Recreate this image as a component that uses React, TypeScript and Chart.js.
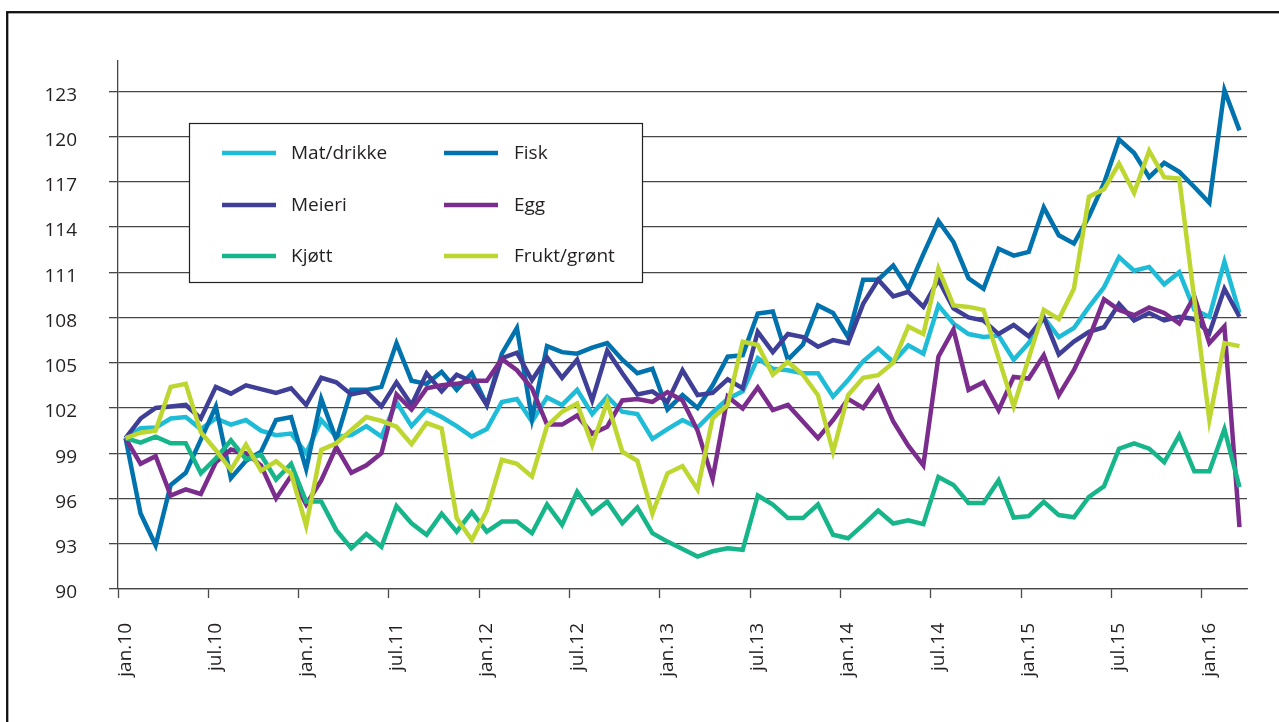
import { useEffect, useRef } from 'react';
import { Chart, registerables } from 'chart.js';

Chart.register(...registerables);

const MONTHS = ['jan', 'feb', 'mar', 'apr', 'mai', 'jun', 'jul', 'aug', 'sep', 'okt', 'nov', 'des'];
const YEARS = ['10', '11', '12', '13', '14', '15', '16'];
const categories: string[] = YEARS.flatMap((y) => MONTHS.map((m) => `${m}.${y}`)).slice(0, 75);

const yTicks = [90, 93, 96, 99, 102, 105, 108, 111, 114, 117, 120, 123];

const matDrikke = [
  100.0, 100.65, 100.7, 101.3, 101.4, 100.6, 101.3, 100.9, 101.2, 100.5,
  100.2, 100.3, 99.0, 101.2, 100.1, 100.2, 100.8, 100.1, 102.4, 100.8,
  101.9, 101.4, 100.8, 100.1, 100.6, 102.4, 102.6, 101.1, 102.7, 102.2,
  103.2, 101.6, 102.75, 101.75, 101.6, 99.95, 100.6, 101.2, 100.7, 101.7,
  102.6, 103.1, 105.3, 104.6, 104.5, 104.3, 104.3, 102.75, 103.85, 105.1,
  105.95, 105.05, 106.15, 105.6, 108.8, 107.6, 106.9, 106.7, 106.8, 105.2,
  106.3, 108.0, 106.7, 107.3, 108.7, 110.0, 112.0, 111.1, 111.35, 110.2,
  111.0, 108.5, 108.05, 111.7, 108.3,
];

const fisk = [
  100.0, 95.0, 92.9, 96.9, 97.7, 99.9, 102.1, 97.35, 98.5, 99.1,
  101.2, 101.4, 97.95, 102.6, 99.9, 103.2, 103.2, 103.4, 106.3, 103.8,
  103.6, 104.4, 103.2, 104.3, 102.2, 105.6, 107.3, 101.3, 106.1, 105.7,
  105.6, 106.0, 106.3, 105.2, 104.3, 104.6, 101.9, 102.86, 102.0, 103.5,
  105.4, 105.5, 108.26, 108.4, 105.2, 106.2, 108.8, 108.3, 106.7, 110.5,
  110.5, 111.45, 109.9, 112.2, 114.4, 113.0, 110.6, 109.9, 112.55, 112.1,
  112.35, 115.3, 113.45, 112.9, 114.7, 116.9, 119.8, 118.9, 117.3, 118.25,
  117.65, 116.65, 115.6, 123.07, 120.4,
];

const meieri = [
  100.0, 101.3, 102.0, 102.1, 102.2, 101.3, 103.4, 102.95, 103.5, 103.25,
  103.0, 103.3, 102.2, 104.0, 103.7, 102.9, 103.1, 102.1, 103.7, 102.2,
  104.3, 103.1, 104.2, 103.75, 102.2, 105.3, 105.66, 103.85, 105.35, 104.0,
  105.2, 102.5, 105.8, 104.3, 102.9, 103.1, 102.4, 104.5, 102.86, 103.0,
  103.9, 103.3, 107.05, 105.7, 106.9, 106.7, 106.06, 106.5, 106.3, 108.9,
  110.5, 109.4, 109.7, 108.7, 110.5, 108.6, 108.0, 107.8, 106.9, 107.5,
  106.75, 108.0, 105.55, 106.4, 107.05, 107.35, 108.9, 107.8, 108.3, 107.8,
  108.05, 107.9, 106.95, 109.9, 108.05,
];

const egg = [
  100.0, 98.3, 98.8, 96.2, 96.6, 96.3, 98.4, 99.25, 99.0, 98.2,
  96.0, 97.5, 95.6, 97.2, 99.4, 97.7, 98.2, 99.0, 102.9, 101.9,
  103.3, 103.5, 103.6, 103.8, 103.8, 105.25, 104.5, 103.3, 100.9, 100.9,
  101.5, 100.3, 100.76, 102.5, 102.6, 102.4, 103.05, 102.5, 100.5, 97.3,
  102.75, 101.97, 103.36, 101.86, 102.2, 101.1, 100.0, 101.2, 102.6, 102.0,
  103.4, 101.1, 99.5, 98.2, 105.4, 107.2, 103.2, 103.7, 101.85, 104.06,
  103.95, 105.5, 102.85, 104.5, 106.6, 109.2, 108.5, 108.15, 108.66, 108.3,
  107.6, 109.4, 106.3, 107.4, 94.1,
];

const kjott = [
  100.0, 99.7, 100.1, 99.66, 99.66, 97.67, 98.66, 99.85, 98.6, 98.9,
  97.25, 98.3, 95.8, 95.8, 93.9, 92.7, 93.65, 92.8, 95.5, 94.36,
  93.6, 95.0, 93.8, 95.1, 93.8, 94.47, 94.47, 93.7, 95.6, 94.25,
  96.45, 95.0, 95.8, 94.36, 95.4, 93.7, 93.14, 92.65, 92.15, 92.5,
  92.7, 92.6, 96.2, 95.6, 94.7, 94.7, 95.6, 93.6, 93.36, 94.25,
  95.2, 94.34, 94.56, 94.3, 97.43, 96.9, 95.7, 95.7, 97.2, 94.74,
  94.83, 95.78, 94.9, 94.75, 96.1, 96.8, 99.3, 99.65, 99.3, 98.4,
  100.2, 97.8, 97.8, 100.6, 96.75,
];

const fruktGront = [
  100.0, 100.36, 100.5, 103.4, 103.6, 100.4, 99.2, 97.9, 99.57, 97.85,
  98.47, 97.65, 94.2, 99.22, 99.66, 100.54, 101.4, 101.15, 100.76, 99.6,
  101.0, 100.65, 94.7, 93.25, 95.2, 98.57, 98.3, 97.45, 100.8, 101.75,
  102.3, 99.55, 102.4, 99.1, 98.5, 95.0, 97.67, 98.15, 96.6, 101.3,
  102.2, 106.4, 106.17, 104.2, 105.06, 104.2, 102.85, 99.1, 102.85, 104.0,
  104.17, 105.0, 107.4, 106.9, 111.24, 108.8, 108.7, 108.5, 105.3, 102.1,
  105.3, 108.5, 107.9, 109.9, 116.0, 116.5, 118.2, 116.26, 119.05, 117.3,
  117.2, 109.2, 101.2, 106.3, 106.1,
];

const seriesNames = ['Mat/drikke', 'Fisk', 'Meieri', 'Egg', 'Kjøtt', 'Frukt/grønt'];
const seriesValues = [matDrikke, fisk, meieri, egg, kjott, fruktGront];
const seriesColors = ['#1fbcd8', '#0072ae', '#3f3f98', '#7b2d8e', '#17b68a', '#bdd630'];

const FONT = "'Open Sans', 'Noto Sans', sans-serif";
const TEXT = '#231f20';
const GRID = '#474747';

const framePlugin = {
  id: 'frame',
  beforeDraw(chart: any) {
    const { ctx, width, height } = chart;
    ctx.save();
    ctx.fillStyle = '#ffffff';
    ctx.fillRect(0, 0, width, height);
    ctx.strokeStyle = '#111111';
    ctx.lineWidth = 2.3;
    ctx.strokeRect(7.2, 12.2, width + 50, height + 50);
    ctx.restore();
  },
};

const boxLegendPlugin = {
  id: 'boxLegend',
  afterDraw(chart: any) {
    const { ctx } = chart;
    const ds = chart.data.datasets;
    ctx.save();
    ctx.fillStyle = '#ffffff';
    ctx.fillRect(189, 123, 453, 159);
    ctx.strokeStyle = '#231f20';
    ctx.lineWidth = 1.2;
    ctx.strokeRect(189.5, 123.5, 453, 159);
    const rows = [153, 205, 256];
    const cols = [
      { x0: 222, x1: 276, tx: 291 },
      { x0: 444, x1: 498, tx: 514 },
    ];
    ctx.font = `19px ${FONT}`;
    ctx.textBaseline = 'middle';
    ctx.textAlign = 'left';
    ds.forEach((d: any, i: number) => {
      const r = rows[Math.floor(i / 2)];
      const c = cols[i % 2];
      ctx.strokeStyle = d.borderColor;
      ctx.lineWidth = 4.5;
      ctx.beginPath();
      ctx.moveTo(c.x0, r);
      ctx.lineTo(c.x1, r);
      ctx.stroke();
      ctx.fillStyle = TEXT;
      ctx.fillText(d.label, c.tx, r + 1);
    });
    ctx.restore();
  },
};

export default function App() {
  const ref = useRef<HTMLCanvasElement>(null);

  useEffect(() => {
    let chart: Chart | null = null;
    let cancelled = false;
    const build = () => {
      if (cancelled || !ref.current) return;
      chart = new Chart(ref.current, {
        type: 'line',
        data: {
          labels: categories,
          datasets: seriesNames.map((name, i) => ({
            label: name,
            data: seriesValues[i],
            borderColor: seriesColors[i],
            backgroundColor: seriesColors[i],
            borderWidth: 4.5,
            pointRadius: 0,
            pointHoverRadius: 0,
            tension: 0,
            fill: false,
            order: seriesNames.length - i,
          })),
        },
        options: {
          responsive: false,
          animation: false,
          events: [],
          layout: { padding: { top: 61, right: 32, left: 0, bottom: 0 } },
          plugins: {
            legend: { display: false },
            tooltip: { enabled: false },
            title: { display: false },
          },
          scales: {
            x: {
              type: 'category',
              offset: true,
              grid: {
                offset: true,
                drawOnChartArea: false,
                drawTicks: true,
                tickLength: 9,
                tickWidth: 1.3,
                tickColor: (c: any) => (c.index % 6 === 0 ? GRID : 'rgba(0,0,0,0)'),
              },
              border: { display: true, color: GRID, width: 1.3 },
              ticks: {
                autoSkip: false,
                maxRotation: 90,
                minRotation: 90,
                padding: 25,
                color: TEXT,
                font: { family: FONT, size: 19 },
                callback: (_v: any, index: number) => (index % 6 === 0 ? categories[index] : ''),
              },
              afterFit: (s: any) => {
                s.height = 133;
                s.paddingLeft = 0;
                s.paddingRight = 0;
              },
            },
            y: {
              type: 'linear',
              min: 90,
              max: 125,
              afterBuildTicks: (s: any) => {
                s.ticks = yTicks.map((v) => ({ value: v }));
              },
              grid: {
                color: GRID,
                lineWidth: 1.3,
                drawTicks: true,
                tickLength: 9,
              },
              border: { display: true, color: GRID, width: 1.3 },
              ticks: {
                padding: 32,
                labelOffset: 4,
                color: TEXT,
                font: { family: FONT, size: 19 },
                callback: (v: any) => String(v),
              },
              afterFit: (s: any) => {
                s.width = 118;
              },
            },
          },
        },
        plugins: [framePlugin, boxLegendPlugin],
      } as any);
    };
    const fonts: any = (document as any).fonts;
    if (fonts && fonts.load) {
      fonts.load(`19px "Open Sans"`).then(build, build);
    } else {
      build();
    }
    return () => {
      cancelled = true;
      if (chart) chart.destroy();
    };
  }, []);

  return (
    <div style={{ position: 'absolute', left: 0, top: 0, width: 1279, height: 722, background: '#fff' }}>
      <canvas ref={ref} width={1279} height={722} style={{ display: 'block', width: 1279, height: 722 }} />
    </div>
  );
}
